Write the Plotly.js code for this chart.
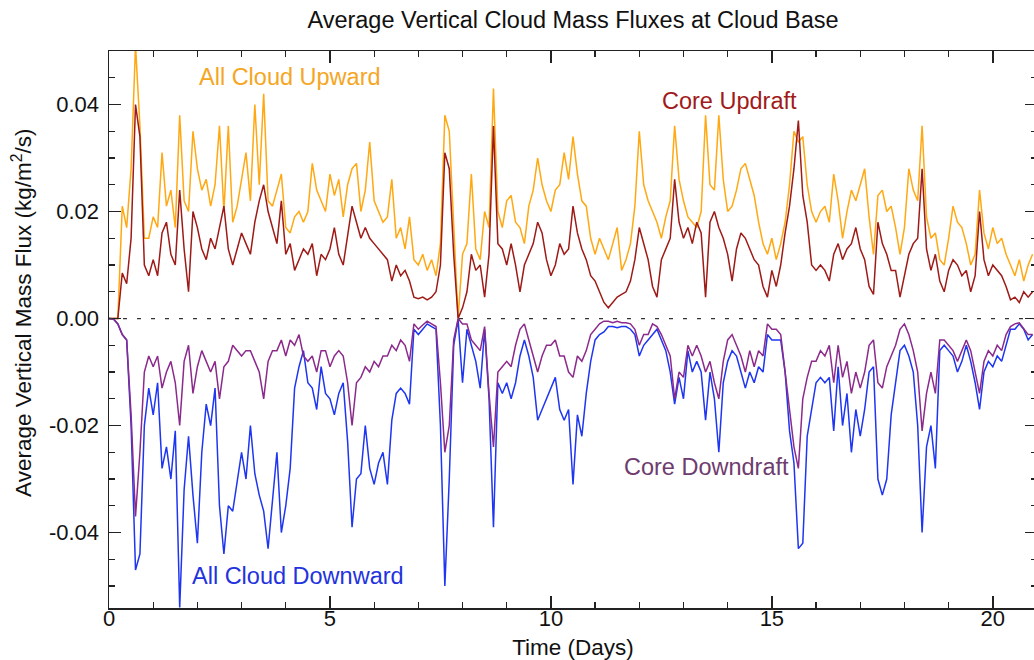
<!DOCTYPE html>
<html>
<head>
<meta charset="utf-8">
<script src="https://cdn.plot.ly/plotly-3.0.1.min.js"></script>
<style>
html,body{margin:0;padding:0;overflow:hidden;background:#fff;}
#chart{width:1038px;height:660px;}
</style>
</head>
<body>
<div id="chart"></div>
<script>
// sampling step of the series (days)
const timeStepDays = 0.1;

// All Cloud Upward (kg/m^2/s), one row per day, 10 samples per day
const allCloudUpward = [
  0, 0, 0, 0.021, 0.017, 0.028, 0.051, 0.036, 0.015, 0.015,
  0.019, 0.017, 0.031, 0.021, 0.024, 0.017, 0.038, 0.022, 0.020, 0.035,
  0.028, 0.024, 0.026, 0.021, 0.025, 0.036, 0.020, 0.036, 0.018, 0.021,
  0.026, 0.031, 0.022, 0.040, 0.025, 0.042, 0.022, 0.021, 0.024, 0.027,
  0.017, 0.016, 0.019, 0.020, 0.018, 0.020, 0.029, 0.024, 0.022, 0.020,
  0.027, 0.023, 0.026, 0.019, 0.025, 0.028, 0.029, 0.020, 0.024, 0.033,
  0.022, 0.020, 0.018, 0.019, 0.026, 0.015, 0.017, 0.013, 0.019, 0.011,
  0.010, 0.012, 0.009, 0.011, 0.008, 0.014, 0.038, 0.035, 0.018, 0.000,
  0.012, 0.014, 0.027, 0.013, 0.011, 0.020, 0.017, 0.043, 0.020, 0.017,
  0.022, 0.023, 0.018, 0.017, 0.014, 0.021, 0.024, 0.030, 0.025, 0.022,
  0.020, 0.024, 0.025, 0.031, 0.026, 0.034, 0.027, 0.022, 0.021, 0.015,
  0.012, 0.015, 0.013, 0.011, 0.014, 0.017, 0.009, 0.011, 0.014, 0.021,
  0.035, 0.025, 0.022, 0.020, 0.018, 0.015, 0.019, 0.022, 0.036, 0.026,
  0.022, 0.019, 0.018, 0.017, 0.020, 0.038, 0.025, 0.024, 0.038, 0.026,
  0.020, 0.021, 0.024, 0.028, 0.029, 0.026, 0.023, 0.018, 0.014, 0.012,
  0.015, 0.011, 0.014, 0.018, 0.025, 0.035, 0.033, 0.034, 0.025, 0.020,
  0.018, 0.020, 0.021, 0.018, 0.027, 0.022, 0.015, 0.020, 0.024, 0.022,
  0.025, 0.028, 0.019, 0.012, 0.023, 0.024, 0.020, 0.021, 0.017, 0.012,
  0.017, 0.028, 0.024, 0.022, 0.036, 0.019, 0.015, 0.016, 0.011, 0.010,
  0.015, 0.021, 0.018, 0.017, 0.014, 0.010, 0.012, 0.024, 0.016, 0.013,
  0.017, 0.014, 0.015, 0.012, 0.010, 0.008, 0.011, 0.007, 0.010, 0.012
];

// Core Updraft
const coreUpdraft = [
  0, 0, 0, 0.0085, 0.0065, 0.015, 0.040, 0.034, 0.010, 0.008,
  0.011, 0.008, 0.016, 0.018, 0.012, 0.010, 0.024, 0.013, 0.005, 0.020,
  0.017, 0.013, 0.011, 0.015, 0.013, 0.017, 0.021, 0.013, 0.010, 0.013,
  0.016, 0.014, 0.012, 0.018, 0.022, 0.025, 0.020, 0.017, 0.014, 0.022,
  0.012, 0.014, 0.009, 0.011, 0.013, 0.012, 0.014, 0.008, 0.012, 0.011,
  0.013, 0.017, 0.012, 0.010, 0.016, 0.021, 0.018, 0.015, 0.017, 0.015,
  0.014, 0.013, 0.012, 0.011, 0.007, 0.010, 0.008, 0.009, 0.007, 0.004,
  0.0037, 0.004, 0.0035, 0.004, 0.005, 0.010, 0.031, 0.028, 0.012, 0.000,
  0.002, 0.005, 0.012, 0.009, 0.010, 0.004, 0.012, 0.036, 0.014, 0.013,
  0.010, 0.014, 0.010, 0.005, 0.010, 0.012, 0.014, 0.018, 0.016, 0.011,
  0.008, 0.010, 0.014, 0.012, 0.013, 0.021, 0.016, 0.013, 0.011, 0.008,
  0.007, 0.005, 0.003, 0.002, 0.003, 0.004, 0.0045, 0.005, 0.007, 0.011,
  0.017, 0.014, 0.011, 0.006, 0.004, 0.011, 0.013, 0.015, 0.026, 0.018,
  0.015, 0.017, 0.014, 0.018, 0.016, 0.004, 0.018, 0.020, 0.017, 0.015,
  0.012, 0.007, 0.013, 0.016, 0.015, 0.013, 0.011, 0.010, 0.006, 0.004,
  0.009, 0.006, 0.010, 0.016, 0.021, 0.028, 0.037, 0.023, 0.018, 0.010,
  0.009, 0.010, 0.009, 0.007, 0.012, 0.014, 0.011, 0.013, 0.014, 0.017,
  0.013, 0.011, 0.006, 0.0045, 0.018, 0.014, 0.012, 0.009, 0.009, 0.004,
  0.008, 0.012, 0.014, 0.015, 0.028, 0.013, 0.009, 0.012, 0.007, 0.005,
  0.009, 0.011, 0.010, 0.008, 0.009, 0.005, 0.008, 0.020, 0.011, 0.008,
  0.010, 0.009, 0.008, 0.006, 0.0035, 0.004, 0.003, 0.005, 0.004, 0.005
];

// All Cloud Downward
const allCloudDownward = [
  0, -0.0001, -0.001, -0.003, -0.004, -0.020, -0.047, -0.044, -0.020, -0.013,
  -0.018, -0.012, -0.028, -0.024, -0.030, -0.021, -0.054, -0.032, -0.022, -0.033,
  -0.042, -0.025, -0.016, -0.020, -0.013, -0.035, -0.044, -0.035, -0.036, -0.030,
  -0.025, -0.030, -0.020, -0.029, -0.033, -0.036, -0.043, -0.034, -0.025, -0.040,
  -0.035, -0.028, -0.013, -0.009, -0.006, -0.012, -0.013, -0.017, -0.009, -0.014,
  -0.015, -0.018, -0.014, -0.012, -0.023, -0.039, -0.030, -0.029, -0.020, -0.028,
  -0.031, -0.027, -0.025, -0.031, -0.019, -0.014, -0.013, -0.014, -0.016, -0.002,
  -0.003, -0.002, -0.001, -0.0015, -0.002, -0.020, -0.050, -0.030, -0.005, -0.0002,
  -0.012, -0.002, -0.005, -0.008, -0.013, -0.002, -0.015, -0.039, -0.012, -0.014,
  -0.012, -0.015, -0.012, -0.007, -0.004, -0.007, -0.011, -0.019, -0.017, -0.015,
  -0.013, -0.011, -0.017, -0.019, -0.017, -0.031, -0.018, -0.022, -0.014, -0.008,
  -0.004, -0.003, -0.0025, -0.0015, -0.0015, -0.0017, -0.0015, -0.0015, -0.002, -0.003,
  -0.007, -0.005, -0.004, -0.003, -0.002, -0.004, -0.006, -0.010, -0.016, -0.011,
  -0.015, -0.006, -0.010, -0.008, -0.010, -0.019, -0.010, -0.015, -0.025, -0.012,
  -0.008, -0.006, -0.007, -0.010, -0.013, -0.010, -0.012, -0.009, -0.010, -0.003,
  -0.004, -0.004, -0.004, -0.010, -0.021, -0.027, -0.043, -0.042, -0.022, -0.017,
  -0.012, -0.011, -0.012, -0.011, -0.021, -0.009, -0.020, -0.014, -0.025, -0.017,
  -0.022, -0.017, -0.010, -0.009, -0.030, -0.033, -0.030, -0.018, -0.012, -0.006,
  -0.005, -0.007, -0.010, -0.020, -0.040, -0.024, -0.020, -0.028, -0.006, -0.005,
  -0.006, -0.007, -0.010, -0.008, -0.005, -0.008, -0.012, -0.017, -0.010, -0.008,
  -0.009, -0.007, -0.008, -0.005, -0.002, -0.002, -0.001, -0.002, -0.004, -0.003
];

// Core Downdraft
const coreDowndraft = [
  0, -0.0001, -0.001, -0.003, -0.004, -0.018, -0.037, -0.025, -0.010, -0.007,
  -0.009, -0.007, -0.013, -0.010, -0.008, -0.012, -0.020, -0.008, -0.005, -0.014,
  -0.009, -0.006, -0.008, -0.010, -0.008, -0.015, -0.009, -0.008, -0.005, -0.006,
  -0.007, -0.006, -0.006, -0.008, -0.010, -0.015, -0.008, -0.006, -0.006, -0.004,
  -0.007, -0.004, -0.005, -0.003, -0.007, -0.008, -0.007, -0.010, -0.006, -0.006,
  -0.009, -0.007, -0.006, -0.007, -0.012, -0.020, -0.012, -0.011, -0.009, -0.010,
  -0.008, -0.009, -0.007, -0.007, -0.005, -0.006, -0.004, -0.005, -0.008, -0.001,
  -0.002, -0.0012, -0.0005, -0.001, -0.0015, -0.012, -0.025, -0.020, -0.004, 0,
  -0.001, -0.001, -0.004, -0.005, -0.006, -0.0015, -0.014, -0.024, -0.010, -0.009,
  -0.008, -0.009, -0.005, -0.002, -0.001, -0.004, -0.007, -0.010, -0.007, -0.005,
  -0.005, -0.004, -0.007, -0.007, -0.010, -0.011, -0.007, -0.008, -0.006, -0.003,
  -0.002, -0.001, -0.0005, -0.0005, -0.0008, -0.0005, -0.0008, -0.0008, -0.001, -0.002,
  -0.005, -0.003, -0.003, -0.001, -0.0015, -0.003, -0.005, -0.007, -0.015, -0.010,
  -0.011, -0.005, -0.007, -0.005, -0.007, -0.010, -0.008, -0.012, -0.015, -0.008,
  -0.004, -0.003, -0.005, -0.007, -0.010, -0.006, -0.009, -0.006, -0.007, -0.001,
  -0.002, -0.002, -0.003, -0.010, -0.016, -0.024, -0.028, -0.015, -0.011, -0.008,
  -0.008, -0.006, -0.007, -0.005, -0.012, -0.005, -0.011, -0.008, -0.014, -0.010,
  -0.013, -0.010, -0.005, -0.004, -0.012, -0.013, -0.009, -0.007, -0.005, -0.002,
  -0.001, -0.003, -0.006, -0.010, -0.021, -0.014, -0.010, -0.014, -0.004, -0.004,
  -0.005, -0.006, -0.008, -0.006, -0.004, -0.006, -0.010, -0.014, -0.008, -0.006,
  -0.007, -0.005, -0.006, -0.003, -0.0015, -0.001, -0.0008, -0.002, -0.003, -0.003
];

// tick labels
const xTickVals = [0, 5, 10, 15, 20];
const xTickText = ['0', '5', '10', '15', '20'];
const yTickVals = [-0.04, -0.02, 0, 0.02, 0.04];
const yTickText = ['-0.04', '-0.02', '0.00', '0.02', '0.04'];

const timeDays = allCloudUpward.map((_, i) => +(i * timeStepDays).toFixed(2));

const FONT = 'Liberation Sans, Arial, Helvetica, sans-serif';
const AX = '#222222';

function line(y, color, name) {
  return {x: timeDays, y: y, type: 'scatter', mode: 'lines', name: name,
          line: {color: color, width: 1.5}, hoverinfo: 'skip'};
}

const data = [
  line(allCloudUpward, '#FFA812', 'All Cloud Upward'),
  line(coreUpdraft, '#9E1A16', 'Core Updraft'),
  line(allCloudDownward, '#1E36F2', 'All Cloud Downward'),
  line(coreDowndraft, '#8C2A8C', 'Core Downdraft')
];

const axisCommon = {
  showgrid: false, zeroline: false, showline: true, linecolor: AX, linewidth: 1.5,
  mirror: 'ticks', ticks: 'inside', ticklen: 12, tickwidth: 1.5, tickcolor: AX,
  tickmode: 'array', tickfont: {family: FONT, size: 22, color: '#111'}
};

const layout = {
  width: 1038, height: 660,
  margin: {l: 109, r: 1, t: 51, b: 52},
  paper_bgcolor: '#fff', plot_bgcolor: '#fff',
  showlegend: false,
  font: {family: FONT, color: '#111'},
  title: {text: 'Average Vertical Cloud Mass Fluxes at Cloud Base',
          font: {family: FONT, size: 23.5, color: '#111'},
          x: 0.5, xref: 'paper', xanchor: 'center', y: 0.97, yref: 'container', yanchor: 'middle'},
  xaxis: Object.assign({}, axisCommon, {
    range: [0, 21], tickvals: xTickVals, ticktext: xTickText, ticklabelstandoff: -10,
    minor: {tickmode: 'linear', tick0: 0, dtick: 1, ticks: 'inside', ticklen: 6, tickwidth: 1.2, tickcolor: AX},
    title: {text: 'Time (Days)', font: {family: FONT, size: 22.5, color: '#111'}, standoff: 14}
  }),
  yaxis: Object.assign({}, axisCommon, {
    range: [-0.0541, 0.050], tickvals: yTickVals, ticktext: yTickText, ticklabelstandoff: 4,
    minor: {tickmode: 'linear', tick0: 0, dtick: 0.005, ticks: 'inside', ticklen: 6, tickwidth: 1.2, tickcolor: AX}
  }),
  shapes: [{type: 'line', xref: 'paper', x0: 0, x1: 1, yref: 'y', y0: 0, y1: 0,
            line: {color: '#333', width: 1.3, dash: '4px,10px'}, layer: 'above'}],
  annotations: [
    {text: 'All Cloud Upward', x: 4.09, y: 0.0451, font: {family: FONT, size: 23.5, color: '#F5A623'}},
    {text: 'Core Updraft', x: 14.04, y: 0.0406, font: {family: FONT, size: 23.5, color: '#A11A1A'}},
    {text: 'Core Downdraft', x: 13.52, y: -0.0278, font: {family: FONT, size: 23.5, color: '#6E3C6E'}},
    {text: 'All Cloud Downward', x: 4.27, y: -0.0482, font: {family: FONT, size: 23.5, color: '#2233DD'}}
  ].map(a => Object.assign({xref: 'x', yref: 'y', showarrow: false, xanchor: 'center', yanchor: 'middle'}, a))
    .concat([{text: 'Average Vertical Mass Flux (kg/m<sup>2</sup>/s)', textangle: -90,
              xref: 'paper', yref: 'paper', x: -0.0938, y: 0.5296, xanchor: 'center', yanchor: 'middle',
              showarrow: false, font: {family: FONT, size: 22.5, color: '#111'}}])
};

Plotly.newPlot('chart', data, layout, {staticPlot: true, displayModeBar: false});
</script>
</body>
</html>
